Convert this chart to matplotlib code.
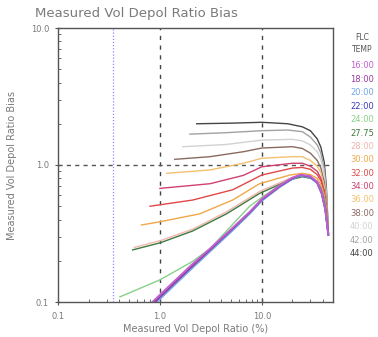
import matplotlib
matplotlib.use("Agg")
import matplotlib.pyplot as plt
from matplotlib.ticker import FixedLocator, NullFormatter, LogLocator

# FLC temperatures and line colours (legend order)
temps = ["16:00", "18:00", "20:00", "22:00", "24:00", "27.75", "28:00", "30:00",
         "32:00", "34:00", "36:00", "38:00", "40:00", "42:00", "44:00"]
colors = ["#c060d0", "#9a3aa0", "#70a8e8", "#3c3cc0", "#88d088", "#3f7a3f", "#f2b6b0",
          "#f0a848", "#e04848", "#d04070", "#f2c070", "#8a6a60", "#d2d2d2", "#a2a2a2", "#454545"]

# curves (x = measured vol depol ratio %, y = bias)
blue_x = [0.75, 1.0, 2.0, 3.0, 5.0, 7.6, 10.0, 15.0, 20.0, 24.0, 30.0, 35.0, 38.7, 42.0, 45.0]
curves = {
    "16:00": (blue_x, [0.092, 0.113, 0.184, 0.24, 0.34, 0.455, 0.565, 0.71, 0.81, 0.85, 0.83, 0.75, 0.63, 0.48, 0.31]),
    "18:00": (blue_x, [0.088, 0.109, 0.178, 0.235, 0.335, 0.45, 0.558, 0.70, 0.80, 0.845, 0.82, 0.745, 0.625, 0.48, 0.31]),
    "20:00": (blue_x, [0.084, 0.105, 0.172, 0.228, 0.325, 0.44, 0.548, 0.69, 0.79, 0.835, 0.81, 0.735, 0.62, 0.47, 0.31]),
    "22:00": (blue_x, [0.086, 0.107, 0.175, 0.232, 0.33, 0.445, 0.553, 0.695, 0.795, 0.84, 0.815, 0.74, 0.62, 0.475, 0.31]),
    "24:00": ([0.405, 1.0, 2.1, 3.1, 7.6, 10.0, 18.0, 24.0, 30.0, 35.0, 38.0, 41.0, 43.0, 45.0],
              [0.109, 0.145, 0.198, 0.245, 0.5, 0.58, 0.78, 0.845, 0.82, 0.75, 0.67, 0.56, 0.44, 0.32]),
    "27.75": ([0.54, 1.0, 2.1, 4.5, 9.5, 18.9, 25.0, 30.0, 35.0, 38.0, 41.0, 43.0, 45.0],
              [0.24, 0.27, 0.33, 0.44, 0.62, 0.78, 0.82, 0.80, 0.75, 0.68, 0.57, 0.45, 0.32]),
    "28:00": ([0.56, 1.0, 2.1, 4.5, 9.5, 18.9, 25.0, 30.0, 35.0, 38.0, 41.0, 43.0, 45.0],
              [0.25, 0.28, 0.34, 0.455, 0.64, 0.80, 0.84, 0.82, 0.77, 0.69, 0.58, 0.46, 0.32]),
    "30:00": ([0.66, 1.0, 2.46, 5.2, 9.5, 18.9, 25.0, 30.0, 35.0, 38.0, 41.0, 43.0, 45.0],
              [0.365, 0.385, 0.44, 0.556, 0.73, 0.845, 0.87, 0.85, 0.80, 0.72, 0.60, 0.47, 0.32]),
    "32:00": ([0.8, 2.1, 5.2, 10.0, 20.0, 25.0, 30.0, 35.0, 38.0, 41.0, 43.0, 45.0],
              [0.50, 0.555, 0.66, 0.845, 0.95, 0.96, 0.93, 0.85, 0.77, 0.63, 0.48, 0.32]),
    "34:00": ([1.0, 3.1, 6.6, 10.0, 20.0, 25.0, 30.0, 35.0, 38.0, 41.0, 43.0, 45.0],
              [0.675, 0.73, 0.84, 0.97, 1.03, 1.03, 0.98, 0.90, 0.80, 0.65, 0.50, 0.32]),
    "36:00": ([1.17, 3.1, 6.6, 10.0, 20.0, 25.0, 30.0, 35.0, 38.0, 41.0, 43.0, 45.0],
              [0.87, 0.92, 1.03, 1.12, 1.15, 1.15, 1.08, 0.98, 0.88, 0.70, 0.52, 0.32]),
    "38:00": ([1.4, 3.1, 6.6, 10.0, 20.0, 25.0, 30.0, 35.0, 38.0, 41.0, 43.0, 45.0],
              [1.10, 1.15, 1.25, 1.33, 1.36, 1.32, 1.22, 1.08, 0.95, 0.75, 0.55, 0.32]),
    "40:00": ([1.68, 4.4, 10.0, 20.0, 25.0, 30.0, 35.0, 38.0, 41.0, 43.0, 45.0],
              [1.36, 1.41, 1.52, 1.54, 1.50, 1.40, 1.25, 1.10, 0.85, 0.60, 0.32]),
    "42:00": ([1.97, 4.4, 10.0, 18.0, 25.0, 30.0, 35.0, 38.0, 41.0, 43.0, 45.0],
              [1.68, 1.72, 1.78, 1.80, 1.75, 1.60, 1.40, 1.22, 0.95, 0.65, 0.32]),
    "44:00": ([2.3, 5.0, 10.0, 18.0, 25.0, 30.0, 35.0, 38.0, 41.0, 43.0, 45.0],
              [2.00, 2.02, 2.05, 2.00, 1.90, 1.78, 1.55, 1.35, 1.05, 0.70, 0.33]),
}

gray = "#7a7a7a"
fig = plt.figure(figsize=(3.78, 3.37), dpi=100)
ax = fig.add_axes([58 / 378, 1 - 302 / 337, 275 / 378, 274 / 337])
ax.set_xscale("log")
ax.set_yscale("log")
ax.set_xlim(0.1, 50)
ax.set_ylim(0.1, 10)

# reference lines
ax.axvline(0.35, color="#8c8cff", lw=0.9, ls=(0, (1, 1.5)), zorder=1)
for xv in [1.0, 10.0]:
    ax.axvline(xv, color="#444444", lw=1.0, ls=(0, (3, 4)), zorder=1)
ax.axhline(1.0, color="#555555", lw=1.0, ls=(0, (3, 3)), zorder=1)

# draw lower temperatures last so the blue bundle sits on top
for t, c in zip(temps[::-1], colors[::-1]):
    xs, ys = curves[t]
    lw = 1.3 if t in ("16:00", "18:00", "20:00", "22:00") else 1.0
    ax.plot(xs, ys, color=c, lw=lw, zorder=2)

for s in ax.spines.values():
    s.set_color("#555555")
    s.set_linewidth(1.0)

ax.xaxis.set_major_locator(FixedLocator([0.1, 1, 10]))
ax.yaxis.set_major_locator(FixedLocator([0.1, 1, 10]))
ax.set_xticklabels(["0.1", "1.0", "10.0"])
ax.set_yticklabels(["0.1", "1.0", "10.0"])
ax.xaxis.set_minor_locator(LogLocator(base=10, subs=range(2, 10)))
ax.yaxis.set_minor_locator(LogLocator(base=10, subs=range(2, 10)))
ax.xaxis.set_minor_formatter(NullFormatter())
ax.yaxis.set_minor_formatter(NullFormatter())
ax.tick_params(which="major", direction="inout", length=5, width=0.8, color="#555555",
               labelsize=6, labelcolor=gray, pad=4)
ax.tick_params(which="minor", direction="in", length=2.5, width=0.6, color="#555555")
ax.tick_params(axis="x", which="major", pad=5)

ax.set_xlabel("Measured Vol Depol Ratio (%)", fontsize=7, color=gray, labelpad=2)
ax.set_ylabel("Measured Vol Depol Ratio Bias", fontsize=7, color=gray, labelpad=10)
fig.text(35 / 378, 1 - 14 / 337, "Measured Vol Depol Ratio Bias", fontsize=9.5,
         color=gray, ha="left", va="center")

# temperature legend on the right
fig.text(362 / 378, 1 - 38 / 337, "FLC", fontsize=5.5, color="#555555", ha="center", va="center")
fig.text(362 / 378, 1 - 50 / 337, "TEMP", fontsize=5.5, color="#555555", ha="center", va="center")
for i, (t, c) in enumerate(zip(temps, colors)):
    y = 66 + i * 13.4
    fig.text(362 / 378, 1 - y / 337, t, fontsize=6, color=c, ha="center", va="center")

fig.savefig("out.png", dpi=100)
